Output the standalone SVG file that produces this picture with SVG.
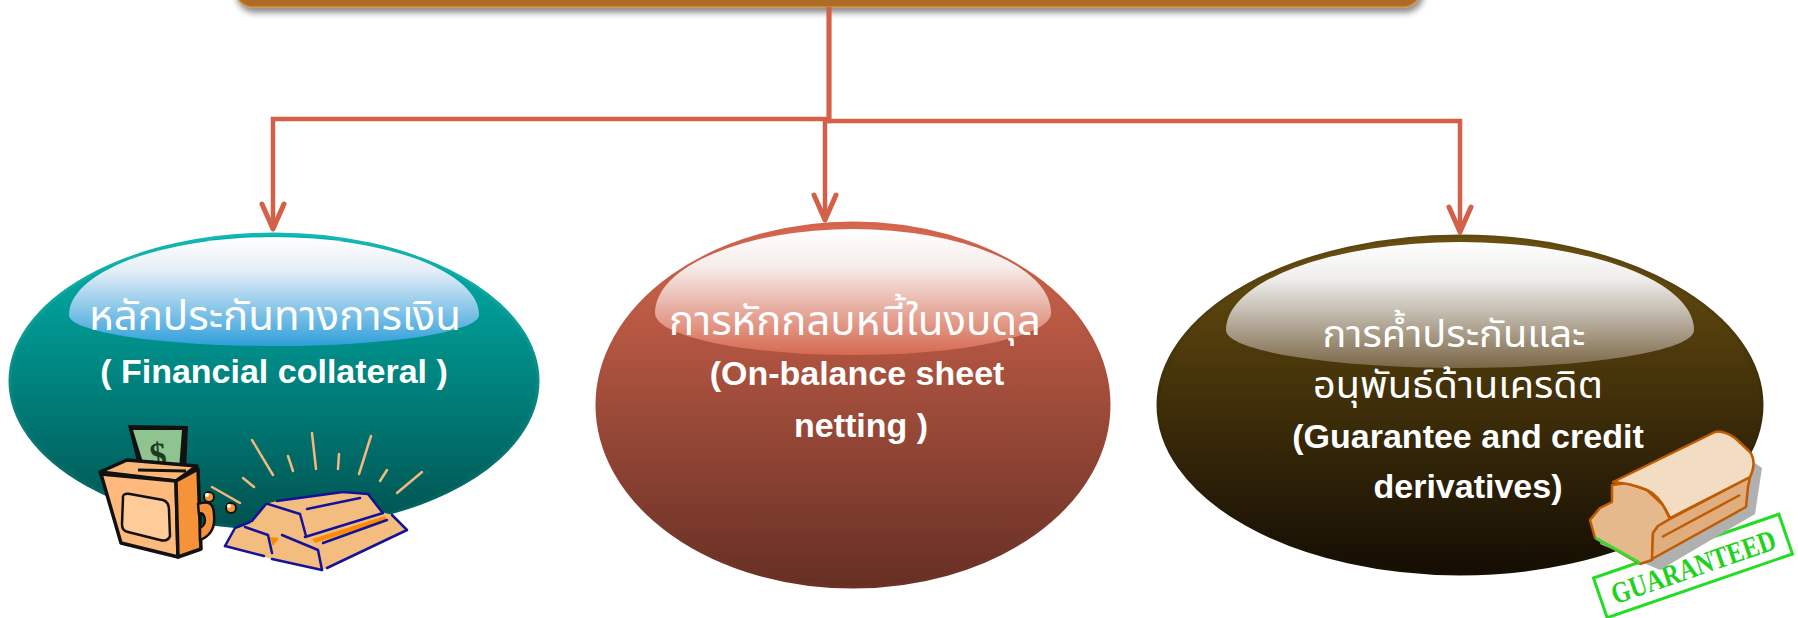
<svg xmlns="http://www.w3.org/2000/svg" width="1798" height="618" viewBox="0 0 1798 618">
  <style>
    .conn { fill: none; stroke: #D3614A; stroke-width: 4.5; stroke-linejoin: miter; }
    .th { font-family: 'Noto Sans Thai', 'Noto Sans', 'DejaVu Sans', sans-serif; font-size: 41px; fill: #FFFFFF; text-anchor: middle; }
    .th-sm { font-size: 37px; }
    .en { font-family: 'Liberation Sans', Arial, sans-serif; font-weight: bold; font-size: 34px; fill: #FFFFFF; text-anchor: middle; }
    .ray { stroke: #F2B97E; stroke-width: 2.5; stroke-linecap: round; }
    .bar { fill: none; stroke: #12129A; stroke-width: 2.5; stroke-linecap: round; stroke-linejoin: round; }
    .stamp { stroke: #BF5B00; stroke-width: 2.5; stroke-linejoin: round; }
  </style>
  <defs>
    <filter id="boxShadow" x="-5%" y="-50%" width="110%" height="200%">
      <feDropShadow dx="2" dy="5" stdDeviation="3" flood-color="#000" flood-opacity="0.45"/>
    </filter>
    <marker id="arrow" markerUnits="userSpaceOnUse" orient="auto" refX="0" refY="0" viewBox="-30 -15 40 30" markerWidth="40" markerHeight="30" overflow="visible">
      <path d="M -23 -11 L 2 0 L -23 11" fill="none" stroke="#D3614A" stroke-width="5" stroke-linecap="round" stroke-linejoin="round"/>
    </marker>
    <linearGradient id="fillTeal" x1="0" y1="0" x2="0" y2="1">
      <stop offset="0" stop-color="#00B3AD"/>
      <stop offset="1" stop-color="#00524F"/>
    </linearGradient>
    <linearGradient id="fillRust" x1="0" y1="0" x2="0" y2="1">
      <stop offset="0" stop-color="#D6684F"/>
      <stop offset="1" stop-color="#662F24"/>
    </linearGradient>
    <linearGradient id="fillOlive" x1="0" y1="0" x2="0" y2="1">
      <stop offset="0" stop-color="#6A500F"/>
      <stop offset="1" stop-color="#140D03"/>
    </linearGradient>
    <linearGradient id="rimTeal" x1="0" y1="0" x2="0" y2="1">
      <stop offset="0" stop-color="#14B8B2"/>
      <stop offset="1" stop-color="#005C58"/>
    </linearGradient>
    <linearGradient id="rimRust" x1="0" y1="0" x2="0" y2="1">
      <stop offset="0" stop-color="#D5644C"/>
      <stop offset="1" stop-color="#6A3126"/>
    </linearGradient>
    <linearGradient id="rimOlive" x1="0" y1="0" x2="0" y2="1">
      <stop offset="0" stop-color="#604A12"/>
      <stop offset="1" stop-color="#161004"/>
    </linearGradient>
    <linearGradient id="glossTeal" x1="0" y1="0" x2="0" y2="1">
      <stop offset="0" stop-color="#FFFFFF"/>
      <stop offset="0.3" stop-color="#E6EFF7"/>
      <stop offset="1" stop-color="#2F9FDA"/>
    </linearGradient>
    <linearGradient id="glossRust" x1="0" y1="0" x2="0" y2="1">
      <stop offset="0" stop-color="#FFFFFF"/>
      <stop offset="0.3" stop-color="#F6ECEA"/>
      <stop offset="1" stop-color="#D66950"/>
    </linearGradient>
    <linearGradient id="glossOlive" x1="0" y1="0" x2="0" y2="1">
      <stop offset="0" stop-color="#FFFFFF"/>
      <stop offset="0.3" stop-color="#EEEDEB"/>
      <stop offset="1" stop-color="#7A6646"/>
    </linearGradient>
    <clipPath id="clipTeal"><ellipse cx="274" cy="381" rx="264" ry="147"/></clipPath>
    <clipPath id="clipRust"><ellipse cx="853" cy="405" rx="256" ry="182"/></clipPath>
    <clipPath id="clipOlive"><ellipse cx="1460" cy="405" rx="302" ry="169"/></clipPath>
  </defs>

  <rect width="1798" height="618" fill="#FFFFFF"/>

  <!-- header box, only its lower edge is on the page -->
  <g id="header">
    <rect x="235" y="-70" width="1186" height="77" rx="18" fill="#AD6C25" stroke="#D68D3D" stroke-width="1.5" filter="url(#boxShadow)"/>
  </g>

  <!-- elbow connectors from the header to the three ovals -->
  <g id="connectors">
    <path class="conn" d="M 829 7 V 119 H 273 V 227" marker-end="url(#arrow)"/>
    <path class="conn" d="M 829 7 V 121 H 825 V 218" marker-end="url(#arrow)"/>
    <path class="conn" d="M 829 7 V 121 H 1460 V 230" marker-end="url(#arrow)"/>
  </g>

  <!-- oval 1: financial collateral -->
  <g id="node-collateral">
    <ellipse cx="274" cy="381" rx="264" ry="147" fill="url(#fillTeal)" stroke="url(#rimTeal)" stroke-width="3"/>
    <path d="M 69 315 A 205 78 0 0 1 479 315 A 205 31 0 0 1 69 315 Z" fill="url(#glossTeal)" clip-path="url(#clipTeal)"/>
    <text class="th" x="275" y="330" textLength="372" lengthAdjust="spacingAndGlyphs">หลักประกันทางการเงิน</text>
    <text class="en" x="274" y="383">( Financial collateral )</text>

    <!-- cash box -->
    <g id="cashbox">
      <polygon points="128,425 188,426 186,472 140,474" fill="#111"/>
      <polygon points="133,430 182,430 179,470 146,472" fill="#8DC48F"/>
      <text x="158" y="466" font-family="'Liberation Serif', serif" font-weight="bold" font-size="34" fill="#1D3B1F" text-anchor="middle" transform="rotate(-4 158 455)">$</text>
      <polygon points="100,472 127,460 197,466 176,481" fill="#F9B878" stroke="#111" stroke-width="3.5" stroke-linejoin="round"/>
      <line x1="138" y1="470" x2="186" y2="471" stroke="#111" stroke-width="3"/>
      <polygon points="101,474 176,481 178,557 121,543" fill="#FDBA7C" stroke="#111" stroke-width="3.5" stroke-linejoin="round"/>
      <polygon points="176,481 198,469 201,549 178,557" fill="#F5923A" stroke="#111" stroke-width="3.5" stroke-linejoin="round"/>
      <path d="M 123 498 Q 122 493 130 494 L 163 500 Q 169 502 169 510 L 170 536 Q 168 542 160 540 L 128 532 Q 122 531 122 524 Z" fill="#FFCB98" stroke="#111" stroke-width="2.5"/>
      <path d="M 198 504 Q 214 498 214 515 Q 216 534 200 540 L 200 528 Q 207 524 204 516 Q 202 512 199 514 Z" fill="#F5923A" stroke="#111" stroke-width="2.5"/>
      <circle cx="209" cy="497" r="5" fill="#F5923A" stroke="#111" stroke-width="2"/>
      <circle cx="231" cy="508" r="5" fill="#F5923A" stroke="#111" stroke-width="2"/>
      <circle cx="207" cy="495" r="2" fill="#FFF"/>
      <circle cx="229" cy="506" r="2" fill="#FFF"/>
    </g>

    <!-- gold bars with rays -->
    <g id="goldbars">
      <line class="ray" x1="252" y1="440" x2="273" y2="475"/>
      <line class="ray" x1="288" y1="456" x2="293" y2="471"/>
      <line class="ray" x1="312" y1="433" x2="316" y2="469"/>
      <line class="ray" x1="339" y1="454" x2="338" y2="469"/>
      <line class="ray" x1="371" y1="436" x2="359" y2="474"/>
      <line class="ray" x1="387" y1="470" x2="380" y2="481"/>
      <line class="ray" x1="422" y1="472" x2="397" y2="493"/>
      <line class="ray" x1="243" y1="478" x2="254" y2="487"/>
      <line class="ray" x1="212" y1="487" x2="240" y2="503"/>
      <polygon points="225,546 233,530 243,526 252,521 265,504 277,501 343,492 368,494 382,512 392,515 407,530 327,568 322,570 272,559" fill="#F3BD80"/>
      <polygon points="312,539 385,516 387,520 315,543" fill="#FF8A00"/>
      <polygon points="270,537 279,538 273,546" fill="#FF8A00"/>
      <polyline class="bar" points="277,501 343,492 368,494"/>
      <polyline class="bar" points="266,504 252,521"/>
      <polyline class="bar" points="268,504 300,514 306,536"/>
      <polyline class="bar" points="307,509 360,498"/>
      <polyline class="bar" points="368,494 382,512"/>
      <polyline class="bar" points="305,537 383,513"/>
      <polyline class="bar" points="323,543 387,520"/>
      <polyline class="bar" points="225,546 235,528 250,522"/>
      <polyline class="bar" points="245,527 268,535 272,553"/>
      <polyline class="bar" points="225,546 264,556"/>
      <polyline class="bar" points="282,535 318,550 322,570"/>
      <polyline class="bar" points="272,559 322,570"/>
      <polyline class="bar" points="392,515 407,530 327,568"/>
    </g>
  </g>

  <!-- oval 2: on-balance sheet netting -->
  <g id="node-netting">
    <ellipse cx="853" cy="405" rx="256" ry="182" fill="url(#fillRust)" stroke="url(#rimRust)" stroke-width="3"/>
    <path d="M 655 313 A 198 84 0 0 1 1051 313 A 198 42 0 0 1 655 313 Z" fill="url(#glossRust)" clip-path="url(#clipRust)"/>
    <text class="th" x="855" y="335" textLength="372" lengthAdjust="spacingAndGlyphs">การหักกลบหนี้ในงบดุล</text>
    <text class="en" x="857" y="385">(On-balance sheet</text>
    <text class="en" x="861" y="437">netting )</text>
  </g>

  <!-- oval 3: guarantees and credit derivatives -->
  <g id="node-guarantee">
    <ellipse cx="1460" cy="405" rx="302" ry="169" fill="url(#fillOlive)" stroke="url(#rimOlive)" stroke-width="3"/>
    <path d="M 1226 330 A 234 88 0 0 1 1694 330 A 234 38 0 0 1 1226 330 Z" fill="url(#glossOlive)" clip-path="url(#clipOlive)"/>
    <text class="th th-sm" x="1454" y="347" textLength="263" lengthAdjust="spacingAndGlyphs">การค้ำประกันและ</text>
    <text class="th th-sm" x="1458" y="398" textLength="290" lengthAdjust="spacingAndGlyphs">อนุพันธ์ด้านเครดิต</text>
    <text class="en" x="1468" y="448">(Guarantee and credit</text>
    <text class="en" x="1468" y="498">derivatives)</text>

    <!-- rubber stamp and its imprint -->
    <g id="stamp">
      <rect x="1595" y="545" width="196" height="42" fill="none" stroke="#22DD22" stroke-width="3" transform="rotate(-19 1693 566)"/>
      <text x="1693" y="577" font-family="'Liberation Serif', serif" font-weight="bold" font-size="30" fill="#1ED21E" text-anchor="middle" textLength="172" lengthAdjust="spacingAndGlyphs" transform="rotate(-19 1693 566)">GUARANTEED</text>
      <path d="M 1620 490 L 1722 440 L 1762 468 L 1755 514 L 1660 570 L 1600 544 Z" fill="#B0B0B0"/>
      <polygon class="stamp" points="1612,485 1612,502 1600,508 1590,520 1595,538 1640,564 1652,560 1653,533 1658,526 1670,519 1663,505 1647,490 1627,483" fill="#E6B98C"/>
      <polygon class="stamp" points="1670,519 1750,477 1748,487 1746,507 1652,559 1653,533 1658,526" fill="#E0AE7E"/>
      <line x1="1662" y1="537" x2="1740" y2="495" stroke="#BF5B00" stroke-width="2.5"/>
      <path class="stamp" d="M 1613 482 L 1715 432 Q 1723 430 1735 438 L 1750 452 Q 1757 462 1750 477 L 1670 518 Q 1660 496 1647 490 Q 1630 483 1613 482 Z" fill="#F2DDC3"/>
      <line x1="1596" y1="538" x2="1640" y2="563" stroke="#33DD33" stroke-width="3"/>
    </g>
  </g>
</svg>
